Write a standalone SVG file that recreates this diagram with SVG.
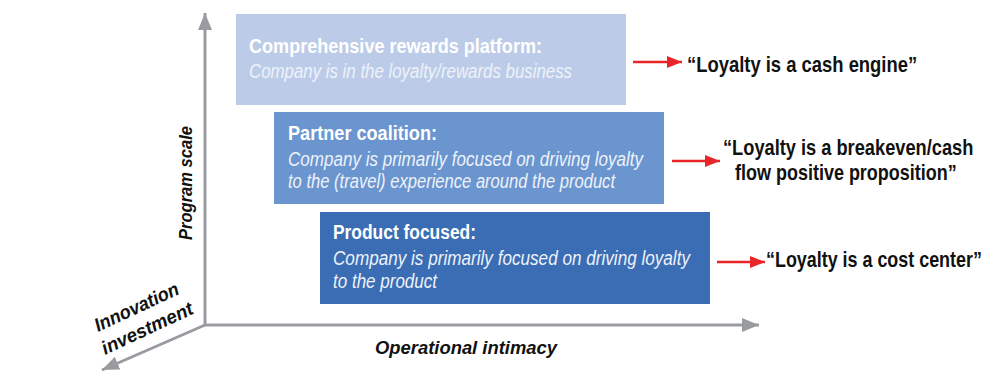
<svg xmlns="http://www.w3.org/2000/svg" width="992" height="381" viewBox="0 0 992 381">
<style>
.t{font-family:"Liberation Sans",Arial,sans-serif;font-size:20px;font-weight:bold;fill:#fff}
.s{font-family:"Liberation Sans",Arial,sans-serif;font-size:19.5px;font-style:italic;fill:#EEF2FA}
.q{font-family:"Liberation Sans",Arial,sans-serif;font-size:21.5px;font-weight:bold;fill:#111}
.ax{font-family:"Liberation Sans",Arial,sans-serif;font-size:19px;font-weight:bold;font-style:italic;fill:#111}
.axis{stroke:#9A9BA0;stroke-width:3;fill:none}
.red{stroke:#E8262A;stroke-width:2.5;fill:none}
</style>
<defs>
<marker id="ga" markerUnits="userSpaceOnUse" markerWidth="18" markerHeight="14" refX="17" refY="7" orient="auto">
<path d="M0,0 L17,7 L0,14 Z" fill="#9A9BA0"/>
</marker>
<marker id="ra" markerUnits="userSpaceOnUse" markerWidth="16" markerHeight="12" refX="15" refY="6" orient="auto">
<path d="M0,0 L15,6 L0,12 Z" fill="#E8262A"/>
</marker>
</defs>
<g id="connectors">
<line class="axis" x1="205" y1="326" x2="205" y2="13" marker-end="url(#ga)"/>
<line class="axis" x1="204" y1="325" x2="759" y2="325" marker-end="url(#ga)"/>
<line class="axis" x1="205" y1="325" x2="102" y2="370" marker-end="url(#ga)"/>
<line class="red" x1="633" y1="62" x2="682" y2="62" marker-end="url(#ra)"/>
<line class="red" x1="672" y1="161" x2="720" y2="161" marker-end="url(#ra)"/>
<line class="red" x1="717" y1="262" x2="765" y2="262" marker-end="url(#ra)"/>
</g>
<g id="box-comprehensive">
<rect x="236" y="14" width="390" height="91" fill="#BCCCE8"/>
<text class="t" x="249" y="53" textLength="293" lengthAdjust="spacingAndGlyphs">Comprehensive rewards platform:</text>
<text class="s" x="249" y="78" textLength="323" lengthAdjust="spacingAndGlyphs">Company is in the loyalty/rewards business</text>
</g>
<g id="box-partner">
<rect x="274" y="112" width="390" height="92" fill="#6A95CF"/>
<text class="t" x="288" y="140" textLength="149" lengthAdjust="spacingAndGlyphs">Partner coalition:</text>
<text class="s" x="288" y="166" textLength="355" lengthAdjust="spacingAndGlyphs">Company is primarily focused on driving loyalty</text>
<text class="s" x="288" y="188" textLength="327" lengthAdjust="spacingAndGlyphs">to the (travel) experience around the product</text>
</g>
<g id="box-product">
<rect x="320" y="212" width="390" height="92" fill="#3A6DB3"/>
<text class="t" x="333" y="239" textLength="143" lengthAdjust="spacingAndGlyphs">Product focused:</text>
<text class="s" x="333" y="265" textLength="357" lengthAdjust="spacingAndGlyphs">Company is primarily focused on driving loyalty</text>
<text class="s" x="333" y="288" textLength="104" lengthAdjust="spacingAndGlyphs">to the product</text>
</g>
<g id="quote-cash-engine">
<text class="q" transform="translate(687,72) scale(0.84,1)" textLength="274" lengthAdjust="spacingAndGlyphs">“Loyalty is a cash engine”</text>
</g>
<g id="quote-breakeven">
<text class="q" transform="translate(723,155) scale(0.84,1)" textLength="298" lengthAdjust="spacingAndGlyphs">“Loyalty is a breakeven/cash</text>
<text class="q" transform="translate(735,180) scale(0.84,1)" textLength="264" lengthAdjust="spacingAndGlyphs">flow positive proposition”</text>
</g>
<g id="quote-cost-center">
<text class="q" transform="translate(766,267) scale(0.84,1)" textLength="257" lengthAdjust="spacingAndGlyphs">“Loyalty is a cost center”</text>
</g>
<g id="axis-labels">
<text class="ax" transform="translate(192,240) rotate(-90)" textLength="114" lengthAdjust="spacingAndGlyphs">Program scale</text>
<text class="ax" x="375" y="354" textLength="182" lengthAdjust="spacingAndGlyphs">Operational intimacy</text>
<text class="ax" transform="translate(98,332) rotate(-25)" textLength="91" lengthAdjust="spacingAndGlyphs">Innovation</text>
<text class="ax" transform="translate(105,355) rotate(-25)" textLength="99" lengthAdjust="spacingAndGlyphs">investment</text>
</g>
</svg>
